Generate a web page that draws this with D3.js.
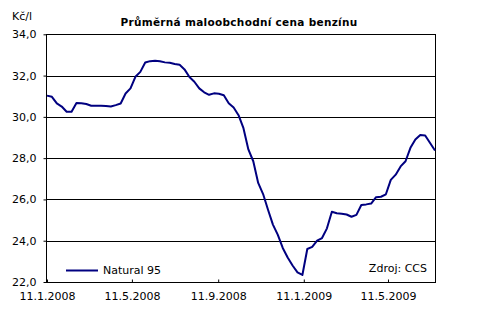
<!DOCTYPE html>
<html>
<head>
<meta charset="utf-8">
<script src="https://cdn.jsdelivr.net/npm/d3@7"></script>
<style>
  html, body { margin: 0; padding: 0; background: #fff; }
  svg text { font-family: "DejaVu Sans", Verdana, sans-serif; fill: #000; }
</style>
</head>
<body>
<svg id="chart" width="479" height="314"></svg>
<script>
// ---- data ----
const startDate = "2008-01-11";          // first weekly observation
const stepDays = 7;                       // weekly observations
const natural95 = [
  31.03, 30.97, 30.65, 30.50, 30.25, 30.25, 30.67, 30.66, 30.62, 30.54,
  30.54, 30.54, 30.53, 30.50, 30.57, 30.65, 31.13, 31.38, 31.94, 32.18,
  32.63, 32.70, 32.72, 32.69, 32.64, 32.62, 32.56, 32.52, 32.30, 31.93,
  31.70, 31.38, 31.19, 31.07, 31.14, 31.12, 31.05, 30.66, 30.45, 30.08,
  29.45, 28.42, 27.85, 26.80, 26.26, 25.50, 24.78, 24.28, 23.65, 23.19,
  22.80, 22.47, 22.34, 23.60, 23.70, 24.00, 24.13, 24.60, 25.40, 25.33,
  25.31, 25.27, 25.16, 25.25, 25.73, 25.76, 25.80, 26.11, 26.13, 26.25,
  26.95, 27.20, 27.60, 27.85, 28.50, 28.90, 29.12, 29.10, 28.73, 28.37
];
const xTickDates = ["2008-01-11", "2008-05-11", "2008-09-11", "2009-01-11", "2009-05-11"];
const xTickLabels = ["11.1.2008", "11.5.2008", "11.9.2008", "11.1.2009", "11.5.2009"];
const yTicks = [22, 24, 26, 28, 30, 32, 34];
const seriesName = "Natural 95";
const titleText = "Průměrná maloobchodní cena benzínu";
const unitText = "Kč/l";
const sourceText = "Zdroj: CCS";

// ---- build ----
(function () {
const parse = d3.utcParse("%Y-%m-%d");
const t0 = parse(startDate);
const data = natural95.map((v, i) => ({ date: d3.utcDay.offset(t0, i * stepDays), value: v }));

const svg = d3.select("#chart");
const pl = 47, pr = 435, pt = 34.3, pb = 282;

const x = d3.scaleUtc()
  .domain([t0, data[data.length - 1].date])
  .range([pl, pr]);
const y = d3.scaleLinear().domain([22, 34]).range([pb, pt]);

const fmt = v => d3.format(".1f")(v).replace(".", ",");

// gridlines
svg.append("g").selectAll("line").data(yTicks.filter(d => d > 22)).join("line")
  .attr("x1", pl).attr("x2", pr)
  .attr("y1", d => Math.round(y(d)) + 0.5).attr("y2", d => Math.round(y(d)) + 0.5)
  .attr("stroke", "#000").attr("stroke-width", 1);

// right border
svg.append("line")
  .attr("x1", pr + 0.5).attr("x2", pr + 0.5)
  .attr("y1", Math.round(pt)).attr("y2", Math.round(pb) + 1)
  .attr("stroke", "#000");

// y axis
const yAxis = svg.append("g")
  .attr("transform", `translate(${pl - 0.5},0)`)
  .call(d3.axisLeft(y).tickValues(yTicks).tickFormat(fmt).tickSize(3).tickPadding(7));
yAxis.select(".domain").attr("stroke", "#000").attr("d", `M0,${Math.round(pt)}V${Math.round(pb) + 0.5}`);
yAxis.selectAll(".tick line").attr("stroke", "#000");
yAxis.selectAll("text").style("font-size", "11px").attr("fill", "#000");

// x axis
const xAxis = svg.append("g")
  .attr("transform", `translate(0,${Math.round(pb) + 0.5})`)
  .call(d3.axisBottom(x)
    .tickValues(xTickDates.map(parse))
    .tickFormat((d, i) => xTickLabels[i])
    .tickSizeInner(-3).tickSizeOuter(0).tickPadding(10));
xAxis.select(".domain").attr("stroke", "#000").attr("d", `M${pl - 1},0H${pr + 1}`);
xAxis.selectAll(".tick line").attr("stroke", "#000");
xAxis.selectAll("text").style("font-size", "11px").attr("fill", "#000");

// line
svg.append("path")
  .datum(data)
  .attr("fill", "none")
  .attr("stroke", "#000080")
  .attr("stroke-width", 2)
  .attr("stroke-linejoin", "round")
  .attr("d", d3.line().x(d => x(d.date)).y(d => y(d.value)));

// title & unit
svg.append("text").attr("x", 239).attr("y", 26)
  .attr("text-anchor", "middle").style("font-size", "10.5px").style("font-weight", "bold")
  .style("letter-spacing", "0.3px")
  .text(titleText);
svg.append("text").attr("x", 12).attr("y", 20).style("font-size", "11px").text(unitText);

// legend
svg.append("line").attr("x1", 66).attr("x2", 98).attr("y1", 270.5).attr("y2", 270.5)
  .attr("stroke", "#000080").attr("stroke-width", 2);
svg.append("text").attr("x", 103).attr("y", 274).style("font-size", "11px").text(seriesName);

// source
svg.append("text").attr("x", 427).attr("y", 272).attr("text-anchor", "end")
  .style("font-size", "11px").text(sourceText);
})();
</script>
</body>
</html>
